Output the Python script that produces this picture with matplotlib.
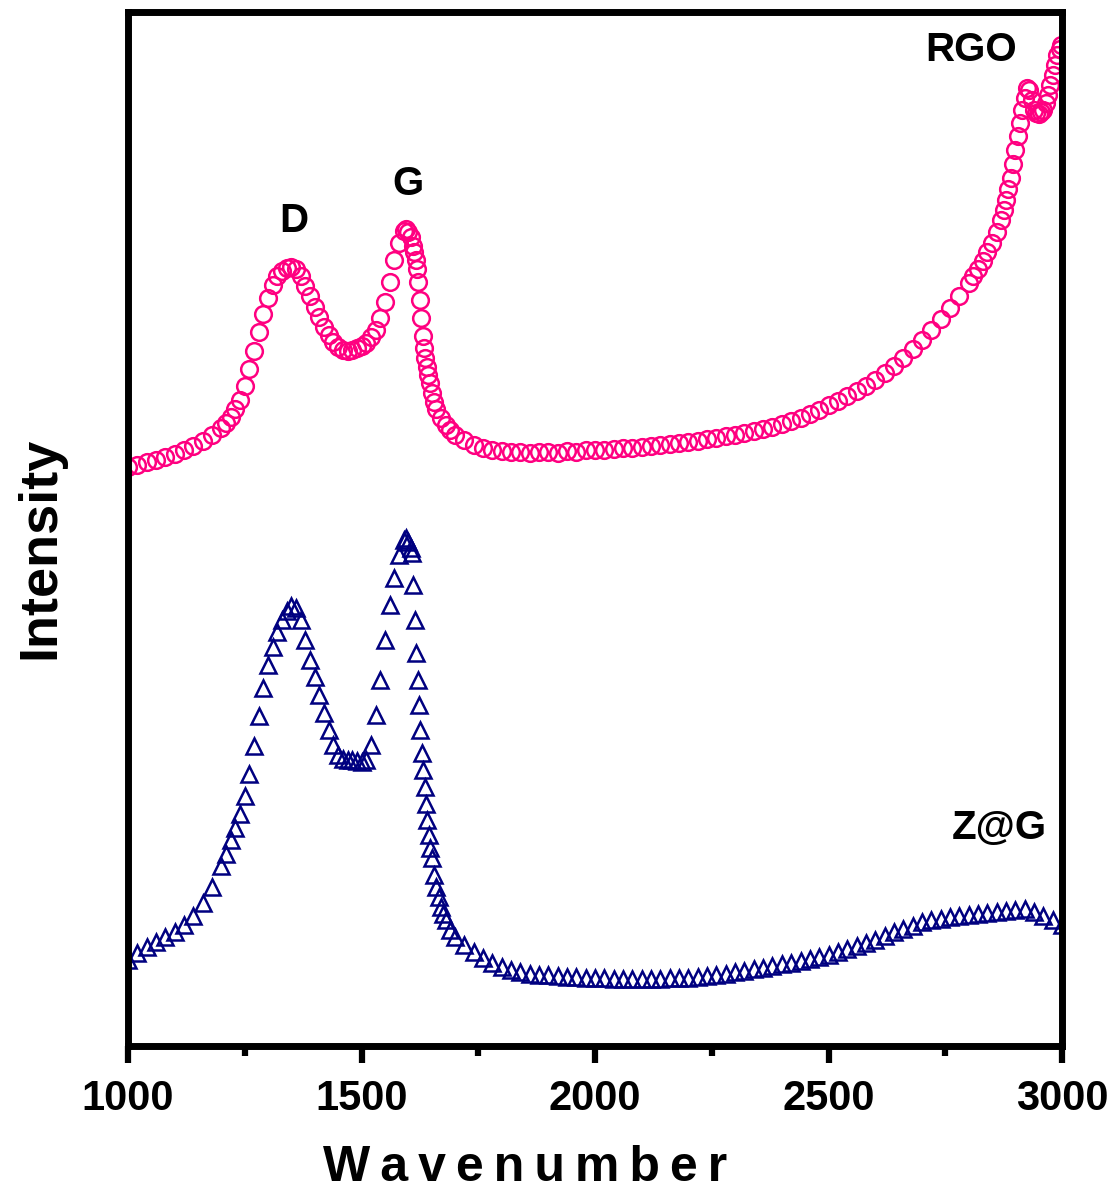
import matplotlib
matplotlib.use('Agg')
import matplotlib.pyplot as plt
from matplotlib.ticker import MultipleLocator

# RGO spectrum (wavenumber, intensity a.u.)
rgo_x = [1000, 1020, 1040, 1060, 1080, 1100, 1120, 1140, 1160, 1180, 1200, 1210, 1220, 1230, 1240,
         1250, 1260, 1270, 1280, 1290, 1300, 1310, 1320, 1330, 1340, 1350, 1360, 1370, 1380, 1390,
         1400, 1410, 1420, 1430, 1440, 1450, 1460, 1470, 1480, 1490, 1500, 1510, 1520, 1530, 1540,
         1550, 1560, 1570, 1580, 1590, 1595, 1600, 1605, 1610, 1613, 1616, 1619, 1622, 1625, 1628,
         1631, 1634, 1637, 1640, 1643, 1646, 1650, 1655, 1660, 1670, 1680, 1690, 1700, 1720, 1740,
         1760, 1780, 1800, 1820, 1840, 1860, 1880, 1900, 1920, 1940, 1960, 1980, 2000, 2020, 2040,
         2060, 2080, 2100, 2120, 2140, 2160, 2180, 2200, 2220, 2240, 2260, 2280, 2300, 2320, 2340,
         2360, 2380, 2400, 2420, 2440, 2460, 2480, 2500, 2520, 2540, 2560, 2580, 2600, 2620, 2640,
         2660, 2680, 2700, 2720, 2740, 2760, 2780, 2800, 2810, 2820, 2830, 2840, 2850, 2860, 2870,
         2875, 2880, 2885, 2890, 2895, 2900, 2905, 2910, 2915, 2920, 2925, 2930, 2935, 2940, 2945,
         2950, 2955, 2960, 2965, 2970, 2975, 2980, 2985, 2990, 2995, 2998]
rgo_y = [579, 581, 584, 586, 589, 592, 596, 600, 605, 611, 618, 623, 629, 637, 646,
         660, 677, 695, 714, 732, 748, 761, 770, 775, 778, 779, 777, 770, 760, 750,
         739, 729, 719, 711, 704, 699, 696, 695, 696, 698, 700, 703, 709, 716, 728,
         744, 764, 786, 803, 815, 817, 814, 809, 800, 794, 786, 777, 764, 746, 728,
         710, 698, 688, 679, 671, 663, 653, 644, 637, 628, 621, 616, 611, 606, 601,
         598, 596, 595, 594, 594, 593, 594, 594, 593, 595, 594, 596, 596, 596, 597,
         598, 598, 599, 600, 601, 602, 603, 604, 605, 607, 608, 610, 611, 613, 615,
         617, 619, 622, 625, 628, 632, 636, 641, 645, 650, 655, 660, 666, 673, 680,
         688, 697, 706, 716, 727, 738, 750, 763, 770, 777, 785, 794, 803, 814, 826,
         836, 846, 857, 868, 882, 896, 910, 923, 936, 948, 958, 956, 946, 936, 933,
         932, 934, 936, 943, 951, 961, 971, 981, 991, 997, 1001]

# Z@G spectrum
zg_x = [1000, 1020, 1040, 1060, 1080, 1100, 1120, 1140, 1160, 1180, 1200, 1210, 1220, 1230, 1240,
        1250, 1260, 1270, 1280, 1290, 1300, 1310, 1320, 1330, 1340, 1350, 1360, 1370, 1380, 1390,
        1400, 1410, 1420, 1430, 1440, 1450, 1460, 1470, 1480, 1490, 1500, 1510, 1520, 1530, 1540,
        1550, 1560, 1570, 1580, 1590, 1595, 1600, 1605, 1608, 1611, 1614, 1617, 1620, 1623, 1626,
        1629, 1632, 1635, 1638, 1641, 1644, 1647, 1650, 1655, 1660, 1665, 1670, 1675, 1680, 1690,
        1700, 1720, 1740, 1760, 1780, 1800, 1820, 1840, 1860, 1880, 1900, 1920, 1940, 1960, 1980,
        2000, 2020, 2040, 2060, 2080, 2100, 2120, 2140, 2160, 2180, 2200, 2220, 2240, 2260, 2280,
        2300, 2320, 2340, 2360, 2380, 2400, 2420, 2440, 2460, 2480, 2500, 2520, 2540, 2560, 2580,
        2600, 2620, 2640, 2660, 2680, 2700, 2720, 2740, 2760, 2780, 2800, 2820, 2840, 2860, 2880,
        2900, 2920, 2940, 2960, 2980, 3000]
zg_y = [86, 93, 99, 104, 109, 114, 121, 130, 143, 159, 180, 192, 206, 218, 232,
        250, 272, 300, 330, 358, 381, 399, 414, 426, 435, 440, 438, 426, 406, 386,
        369, 351, 333, 316, 301, 291, 287, 286, 286, 285, 284, 286, 301, 331, 366,
        406, 441, 468, 491, 506, 508, 504, 498, 493, 461, 426, 393, 366, 341, 316,
        293, 276, 259, 242, 226, 211, 198, 188, 171, 159, 149, 139, 132, 126, 116,
        109, 101, 94, 88, 83, 79, 76, 74, 72, 71, 71, 70, 69, 69, 68,
        68, 68, 67, 67, 67, 67, 67, 67, 68, 68, 68, 69, 70, 71, 72,
        74, 75, 77, 78, 80, 82, 83, 85, 87, 89, 91, 94, 97, 100, 103,
        106, 110, 114, 117, 120, 124, 126, 127, 129, 130, 131, 132, 133, 134, 135,
        136, 137, 134, 130, 126, 121]

x_ticks = [1000, 1500, 2000, 2500, 3000]

fig = plt.figure(figsize=(11.15, 12.03), dpi=100)
ax = fig.add_axes([0.1148, 0.1305, 0.8377, 0.8595])

ax.plot(rgo_x, rgo_y, linestyle='none', marker='o', markersize=12,
        markerfacecolor='none', markeredgecolor='#FF0080', markeredgewidth=1.8)
ax.plot(zg_x, zg_y, linestyle='none', marker='^', markersize=12,
        markerfacecolor='none', markeredgecolor='#000080', markeredgewidth=1.8)

ax.set_xlim(1000, 3000)
ax.set_ylim(0, 1034)
ax.set_xticks(x_ticks)
ax.xaxis.set_minor_locator(MultipleLocator(250))
ax.set_yticks([])

for s in ax.spines.values():
    s.set_linewidth(5)
ax.tick_params(axis='x', which='major', length=12, width=4.5, direction='out', pad=12,
               labelsize=30)
ax.tick_params(axis='x', which='minor', length=7, width=4.5, direction='out')
for lbl in ax.get_xticklabels():
    lbl.set_fontfamily('Liberation Sans')
    lbl.set_fontweight('bold')

font = dict(family='Liberation Sans', fontweight='bold')
ax.text(1355, 825, 'D', fontsize=29, ha='center', va='center', **font)
ax.text(1600, 862, 'G', fontsize=29, ha='center', va='center', **font)
ax.text(2805, 996, 'RGO', fontsize=29, ha='center', va='center', **font)
ax.text(2865, 218, 'Z@G', fontsize=29, ha='center', va='center', **font)

fig.text(525 / 1115, 1 - 1168 / 1203, 'W\u2009a\u2009v\u2009e\u2009n\u2009u\u2009m\u2009b\u2009e\u2009r',
         fontsize=36, ha='center', va='center', **font)
fig.text(40 / 1115, 1 - 548 / 1203, 'Intensity', fontsize=39, rotation=90,
         ha='center', va='center', **font)

fig.savefig('out.png', dpi=100)
